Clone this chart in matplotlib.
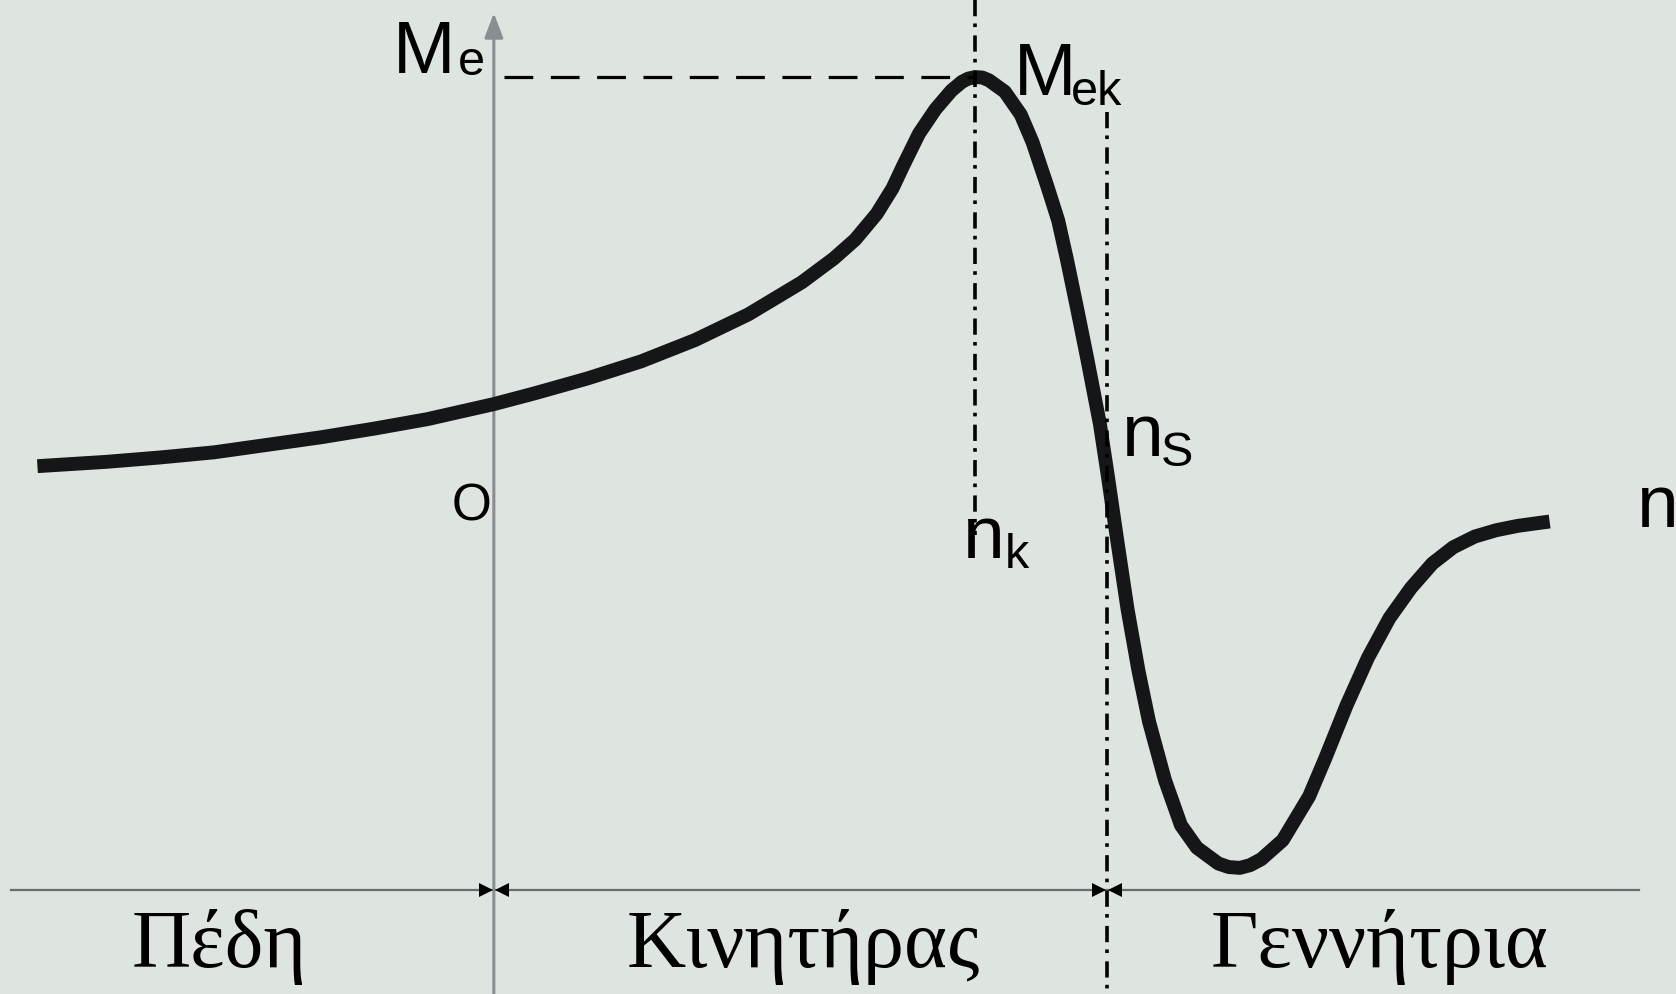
import matplotlib.pyplot as plt
import numpy as np

# torque-speed curve of the induction machine, n in units of n_s, M in units of M_ek
n_vals = [-0.744, -0.631, -0.544, -0.456, -0.369, -0.282, -0.195, -0.108, 0.0, 0.066,
          0.153, 0.240, 0.328, 0.415, 0.502, 0.554, 0.589, 0.624, 0.650, 0.667,
          0.693, 0.720, 0.746, 0.763, 0.773, 0.784, 0.796, 0.807, 0.833, 0.859,
          0.878, 0.902, 0.920, 0.934, 0.951, 0.967, 0.988, 1.0, 1.016, 1.033,
          1.051, 1.068, 1.094, 1.120, 1.146, 1.181, 1.198, 1.216, 1.233, 1.251,
          1.286, 1.329, 1.355, 1.390, 1.425, 1.460, 1.495, 1.530, 1.564, 1.599,
          1.634, 1.669, 1.721]
m_vals = [0.016, 0.027, 0.038, 0.051, 0.070, 0.089, 0.111, 0.135, 0.173, 0.200,
          0.238, 0.281, 0.335, 0.400, 0.481, 0.541, 0.589, 0.654, 0.719, 0.775,
          0.857, 0.919, 0.966, 0.988, 0.996, 1.000, 0.999, 0.992, 0.963, 0.905,
          0.836, 0.725, 0.637, 0.540, 0.413, 0.290, 0.122, 0.0, -0.170, -0.346,
          -0.503, -0.630, -0.778, -0.892, -0.949, -0.989, -0.998, -1.000, -0.993, -0.978,
          -0.930, -0.819, -0.724, -0.589, -0.468, -0.368, -0.292, -0.230, -0.189, -0.162,
          -0.146, -0.135, -0.124]

n_k = 0.784      # speed at breakdown torque
n_s = 1.0        # synchronous speed
M_ek = 1.0       # breakdown torque

regions = ['Πέδη', 'Κινητήρας', 'Γεννήτρια']
region_x = [-0.448, 0.505, 1.443]

bg = '#dee4e0'
axis_gray = '#8b8e91'

fig = plt.figure(figsize=(16.76, 9.94), dpi=100, facecolor=bg)
ax = fig.add_axes([0, 0, 1, 1])
ax.set_facecolor(bg)
ax.set_xlim(-0.805, 1.927)
ax.set_ylim(-1.319, 1.195)
ax.axis('off')

# coordinate axes with arrow tips
arrow = dict(arrowstyle='-|>,head_length=1.0,head_width=0.38', color=axis_gray,
             lw=2.2, shrinkA=0, shrinkB=0, mutation_scale=15)
ax.annotate('', xy=(1.93, 0), xytext=(-0.787, 0), arrowprops=arrow)
ax.annotate('', xy=(0, 1.162), xytext=(0, -1.33), arrowprops=arrow)

# the curve
ax.plot(n_vals, m_vals, color='#151618', lw=10, solid_capstyle='butt',
        solid_joinstyle='round', zorder=3)

# helper lines for M_ek, n_k and n_s
ax.plot([0.017, n_k], [M_ek, M_ek], color='black', lw=2.3,
        linestyle=(0, (9, 5.5)), zorder=4)
dashdot = (0, (4.5, 2.0, 1, 2.3))
ax.plot([n_k, n_k], [1.195, -0.157], color='black', lw=2.6, linestyle=dashdot, zorder=4)
ax.plot([n_s, n_s], [0.911, -1.33], color='black', lw=2.6, linestyle=dashdot, zorder=4)

# operating regions along the bottom
y_reg = -1.057
ax.plot([-0.787, 1.866], [y_reg, y_reg], color='#6a6d70', lw=1.6, zorder=2)
for xb in [0.0, n_s]:
    ax.plot([xb - 0.013], [y_reg], marker='>', ms=10.5, color='black', mew=0, zorder=5)
    ax.plot([xb + 0.013], [y_reg], marker='<', ms=10.5, color='black', mew=0, zorder=5)
for name, xc in zip(regions, region_x):
    ax.text(xc, -1.251, name, ha='center', va='baseline', fontsize=59,
            family='Liberation Serif', color='black')

# axis and point labels
sans = 'Liberation Sans'
ax.text(-0.063, 1.010, 'M', ha='right', va='baseline', fontsize=54, family=sans)
ax.text(-0.058, 1.005, 'e', ha='left', va='baseline', fontsize=35, family=sans)
ax.text(0.847, 0.954, 'M', ha='left', va='baseline', fontsize=54, family=sans)
ax.text(0.940, 0.930, 'ek', ha='left', va='baseline', fontsize=35, family=sans)
ax.text(-0.037, -0.122, 'O', ha='center', va='baseline', fontsize=37, family=sans)
ax.text(0.765, -0.216, 'n', ha='left', va='baseline', fontsize=54, family=sans)
ax.text(0.833, -0.241, 'k', ha='left', va='baseline', fontsize=35, family=sans)
ax.text(1.024, 0.041, 'n', ha='left', va='baseline', fontsize=54, family=sans)
ax.text(1.088, 0.016, 'S', ha='left', va='baseline', fontsize=35, family=sans)
ax.text(1.864, -0.138, 'n', ha='left', va='baseline', fontsize=54, family=sans)

fig.savefig('out.png', dpi=100, facecolor=bg)
